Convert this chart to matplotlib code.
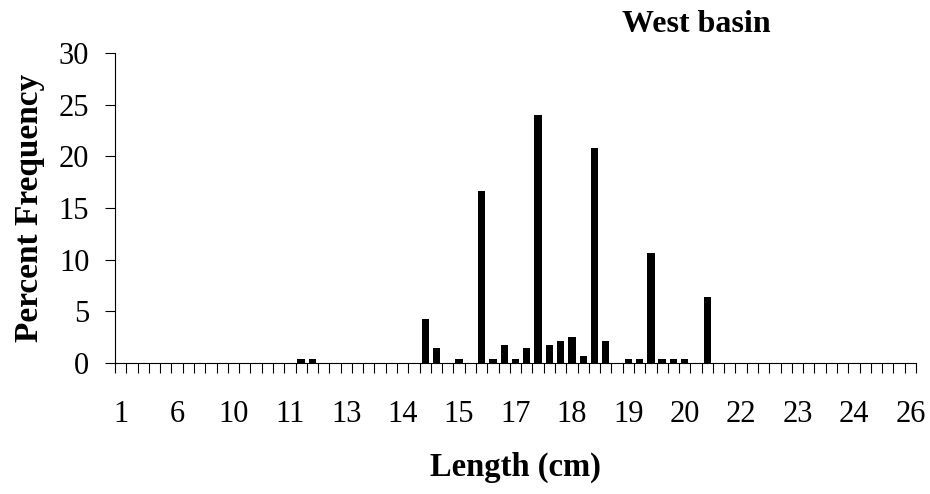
import matplotlib
matplotlib.use("Agg")
import matplotlib.pyplot as plt
import numpy as np

# Percent frequency for each length class (71 classes along the axis)
freq = [0.0] * 71
class_values = {
    16: 0.35, 17: 0.35,
    27: 4.24, 28: 1.41, 30: 0.35,
    32: 16.6, 33: 0.35, 34: 1.77, 35: 0.35, 36: 1.41,
    37: 24.0, 38: 1.77, 39: 2.12, 40: 2.47, 41: 0.71,
    42: 20.8, 43: 2.12, 45: 0.35, 46: 0.35,
    47: 10.6, 48: 0.35, 49: 0.35, 50: 0.35, 52: 6.36,
}
for k, v in class_values.items():
    freq[k] = v

# Labels shown on every fifth length class
tick_labels = ["1", "6", "10", "11", "13", "14", "15", "17", "18", "19",
               "20", "22", "23", "24", "26"]
y_ticks = [0, 5, 10, 15, 20, 25, 30]

plt.rcParams["font.family"] = ["Liberation Serif", "DejaVu Serif"]

fig = plt.figure(figsize=(9.30, 4.94), dpi=100)
ax = fig.add_axes([115 / 930, 1 - 363 / 494, 801 / 930, 310 / 494])

n = len(freq)
centers = np.arange(n) + 0.5
ax.bar(centers, freq, width=0.65, color="black", edgecolor="none")

ax.set_xlim(0, n)
ax.set_ylim(0, 30)

# Tick marks at class boundaries, labels at every fifth class centre
ax.set_xticks(np.arange(n + 1))
ax.set_xticklabels([])
ax.set_xticks(centers[::5], minor=True)
ax.set_xticklabels(tick_labels, minor=True, fontsize=22)
ax.tick_params(axis="x", which="major", direction="out", length=7.5,
               width=0.8, color="black")
ax.tick_params(axis="x", which="minor", length=0, pad=27)

ax.set_yticks(y_ticks)
ax.set_yticklabels([str(t) for t in y_ticks], fontsize=22)
ax.tick_params(axis="y", direction="out", length=7.5, width=0.8, pad=11)

for side in ("top", "right"):
    ax.spines[side].set_visible(False)
for side in ("left", "bottom"):
    ax.spines[side].set_linewidth(0.8)

ax.set_xlabel("Length (cm)", fontsize=23.5, fontweight="bold", labelpad=16)
ax.set_ylabel("Percent Frequency", fontsize=24, fontweight="bold", labelpad=10)

fig.text(696 / 930, 1 - 25 / 494, "West basin", fontsize=23,
         fontweight="bold", ha="center", va="center")

fig.savefig("out.png", dpi=100)
